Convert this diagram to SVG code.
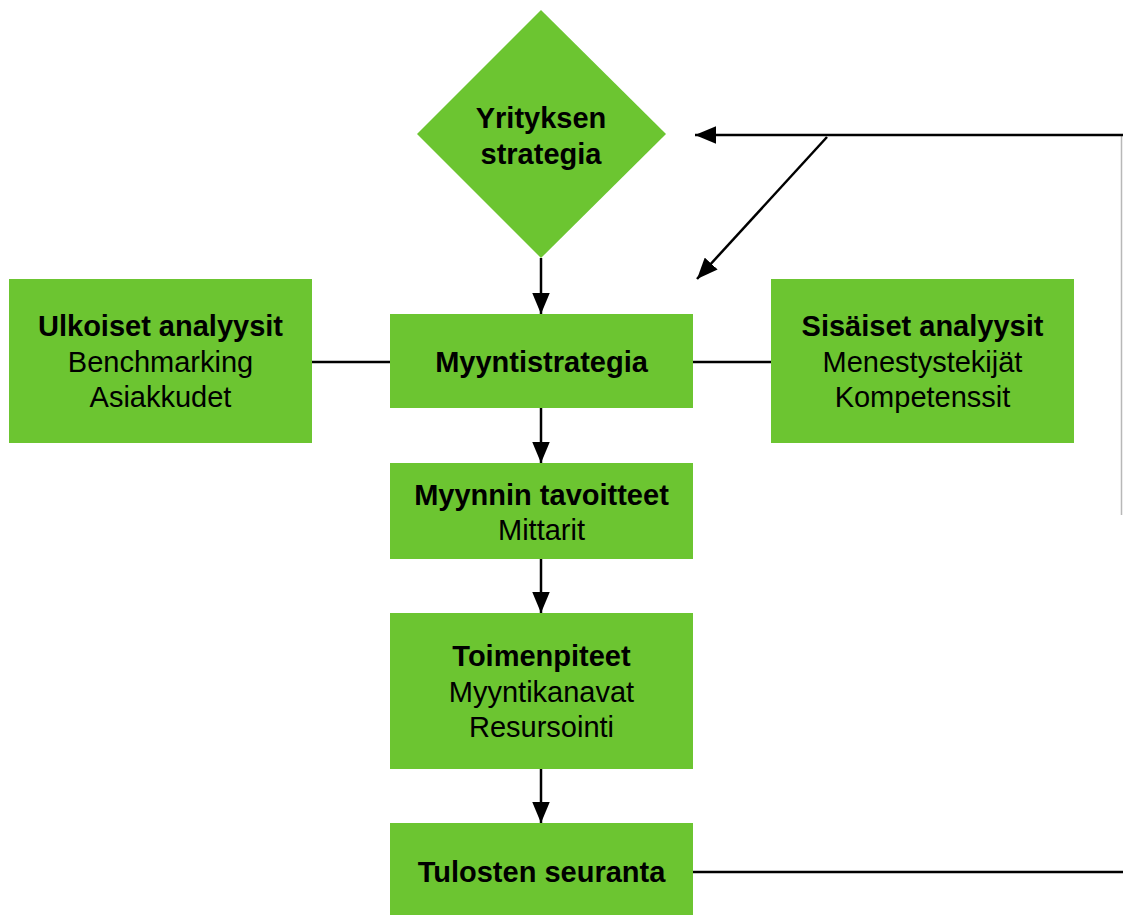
<svg xmlns="http://www.w3.org/2000/svg" width="1123" height="915" viewBox="0 0 1123 915">
  <style>
    .node { fill: #6cc531; }
    .t { font-family: "Liberation Sans", Arial, sans-serif; font-size: 29px; fill: #000; text-anchor: middle; }
    .b { font-weight: bold; }
    .edge { stroke: #000; stroke-width: 2.5; fill: none; }
    .faint { stroke: #b8b8b8; stroke-width: 1.5; fill: none; }
  </style>
  <defs>
    <marker id="arrow" viewBox="0 0 12 10" refX="12" refY="5" markerWidth="8.4" markerHeight="7" orient="auto" markerUnits="strokeWidth">
      <path d="M0,0 L12,5 L0,10 z" fill="#000"/>
    </marker>
  </defs>
  <rect width="1123" height="915" fill="#fff"/>

  <g id="connectors">
    <line class="edge" x1="541" y1="258" x2="541" y2="314" marker-end="url(#arrow)"/>
    <line class="edge" x1="541" y1="408" x2="541" y2="463" marker-end="url(#arrow)"/>
    <line class="edge" x1="541" y1="559" x2="541" y2="613" marker-end="url(#arrow)"/>
    <line class="edge" x1="541" y1="769" x2="541" y2="823" marker-end="url(#arrow)"/>
    <line class="edge" x1="312" y1="362" x2="390" y2="362"/>
    <line class="edge" x1="693" y1="362" x2="771" y2="362"/>
    <line class="edge" x1="693" y1="872" x2="1123" y2="872"/>
    <line class="faint" x1="1121.5" y1="135" x2="1121.5" y2="515"/>
    <line class="edge" x1="1123" y1="135" x2="695" y2="135" marker-end="url(#arrow)"/>
    <line class="edge" x1="827" y1="137" x2="697" y2="279" marker-end="url(#arrow)"/>
  </g>

  <g id="yrityksen-strategia">
    <polygon class="node" points="541,10 666,134 541,258 417,134"/>
    <text class="t b" x="541" y="128">Yrityksen</text>
    <text class="t b" x="541" y="164">strategia</text>
  </g>

  <g id="ulkoiset-analyysit">
    <rect class="node" x="9" y="279" width="303" height="164"/>
    <text class="t b" x="160.5" y="336">Ulkoiset analyysit</text>
    <text class="t" x="160.5" y="372">Benchmarking</text>
    <text class="t" x="160.5" y="407">Asiakkudet</text>
  </g>

  <g id="myyntistrategia">
    <rect class="node" x="390" y="314" width="303" height="94"/>
    <text class="t b" x="541.5" y="372">Myyntistrategia</text>
  </g>

  <g id="sisaiset-analyysit">
    <rect class="node" x="771" y="279" width="303" height="164"/>
    <text class="t b" x="922.5" y="336">Sisäiset analyysit</text>
    <text class="t" x="922.5" y="372">Menestystekijät</text>
    <text class="t" x="922.5" y="407">Kompetenssit</text>
  </g>

  <g id="myynnin-tavoitteet">
    <rect class="node" x="390" y="463" width="303" height="96"/>
    <text class="t b" x="541.5" y="505">Myynnin tavoitteet</text>
    <text class="t" x="541.5" y="540">Mittarit</text>
  </g>

  <g id="toimenpiteet">
    <rect class="node" x="390" y="613" width="303" height="156"/>
    <text class="t b" x="541.5" y="666">Toimenpiteet</text>
    <text class="t" x="541.5" y="702">Myyntikanavat</text>
    <text class="t" x="541.5" y="737">Resursointi</text>
  </g>

  <g id="tulosten-seuranta">
    <rect class="node" x="390" y="823" width="303" height="100"/>
    <text class="t b" x="541.5" y="882">Tulosten seuranta</text>
  </g>
</svg>
